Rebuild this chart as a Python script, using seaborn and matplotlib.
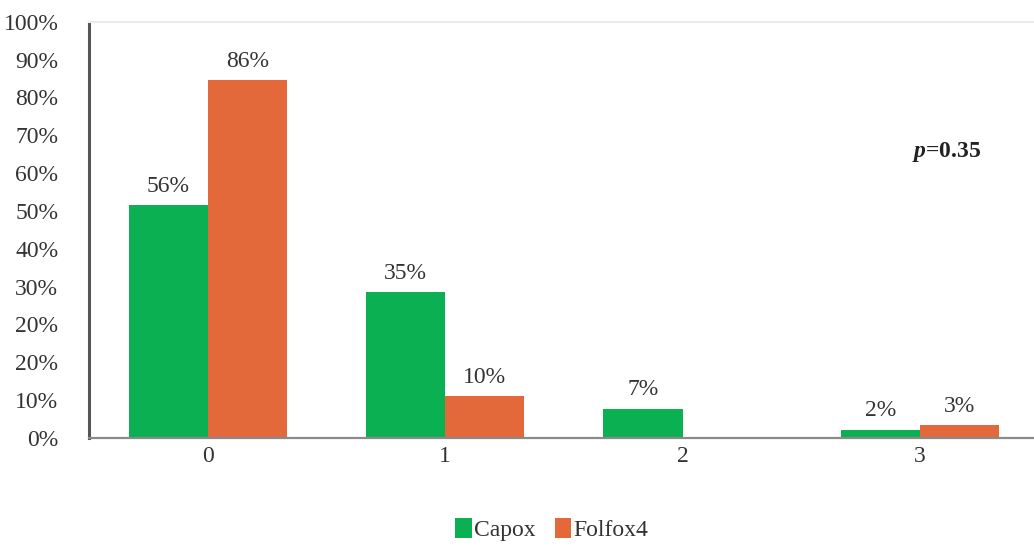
import matplotlib
matplotlib.use("Agg")
import matplotlib.pyplot as plt
import numpy as np
import pandas as pd
import seaborn as sns

# Data
categories = ["0", "1", "2", "3"]
capox = [56, 35, 7, 2]
folfox4 = [86, 10, 0, 3]
series_names = ["Capox", "Folfox4"]
ytick_labels = ["0%", "10%", "20%", "20%", "30%", "40%", "50%",
                "60%", "70%", "80%", "90%", "100%"]
p_text = "0.35"

colors = ["#0AB052", "#E4693A"]
FS = 17

df = pd.DataFrame({
    "grade": categories * 2,
    "value": capox + folfox4,
    "arm": [series_names[0]] * len(categories) + [series_names[1]] * len(categories),
})

sns.set_style("white")
plt.rcParams["font.family"] = ["Liberation Serif", "DejaVu Serif"]
plt.rcParams["mathtext.fontset"] = "custom"
plt.rcParams["mathtext.rm"] = "Liberation Serif"
plt.rcParams["mathtext.it"] = "Liberation Serif:italic:bold"
plt.rcParams["mathtext.bf"] = "Liberation Serif:bold"

fig = plt.figure(figsize=(10.34, 5.46), dpi=100)
ax = fig.add_axes([0.086, 0.198, 0.914, 0.762])

sns.barplot(data=df, x="grade", y="value", hue="arm", order=categories,
            hue_order=series_names, palette=colors, width=2 / 3,
            saturation=1, linewidth=0, ax=ax, legend=True)

# value labels above bars (skip empty bars)
for container in ax.containers:
    labels = [f"{v:.0f}%" if v > 0 else "" for v in container.datavalues]
    ax.bar_label(container, labels=labels, padding=6, fontsize=FS, color="#333333")

ax.set_xlim(-0.5, 3.48)
ax.set_ylim(0, 100)
ax.set_yticks(np.linspace(0, 100, len(ytick_labels)))
ax.set_yticklabels(ytick_labels)
ax.tick_params(axis="both", length=0, labelsize=FS, labelcolor="#333333")
ax.tick_params(axis="x", pad=6)
ax.tick_params(axis="y", pad=22)
ax.set_xlabel("")
ax.set_ylabel("")

ax.spines["right"].set_visible(False)
ax.spines["top"].set_color("#ececec")
ax.spines["top"].set_linewidth(1.5)
ax.spines["left"].set_color("#555555")
ax.spines["left"].set_linewidth(2.2)
ax.spines["bottom"].set_color("#8a8a8a")
ax.spines["bottom"].set_linewidth(1.6)

ax.text(0.871, 0.675, r"$p$=" + p_text, transform=ax.transAxes,
        fontsize=FS, fontweight="bold", color="#222222")

leg = ax.legend(loc="upper center", bbox_to_anchor=(0.49, -0.17), ncol=2,
                frameon=False, fontsize=FS, handlelength=0.7, handleheight=0.9,
                handletextpad=0.1, columnspacing=0.8, borderaxespad=0)
for t in leg.get_texts():
    t.set_color("#333333")

fig.savefig("out.png", dpi=100)
